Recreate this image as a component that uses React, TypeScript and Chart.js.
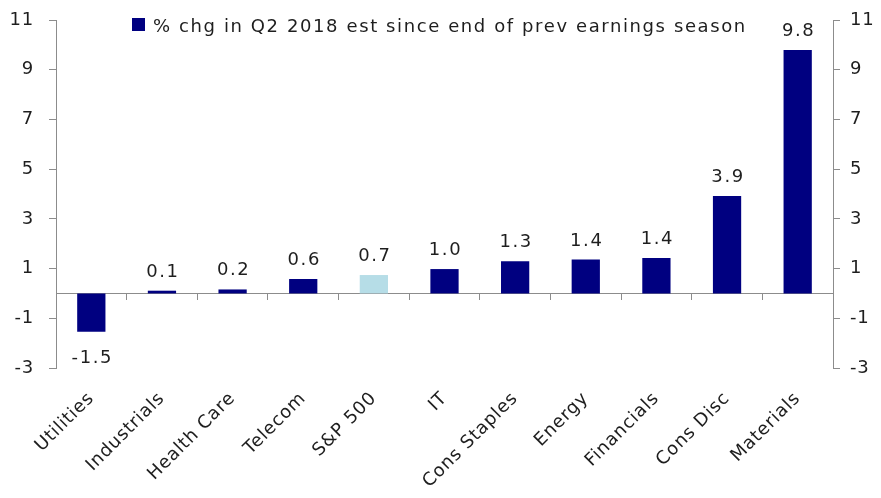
import React, { useEffect, useRef } from "react";
import { Chart, registerables } from "chart.js";

Chart.register(...registerables);

const categories = [
  "Utilities",
  "Industrials",
  "Health Care",
  "Telecom",
  "S&P 500",
  "IT",
  "Cons Staples",
  "Energy",
  "Financials",
  "Cons Disc",
  "Materials",
];
const values = [-1.54, 0.11, 0.16, 0.58, 0.74, 0.98, 1.29, 1.36, 1.43, 3.92, 9.79];
const highlighted = "S&P 500";
const yTicks = [-3, -1, 1, 3, 5, 7, 9, 11];
const seriesLabel = "% chg in Q2 2018 est since end of prev earnings season";

const NAVY = "#000080";
const LIGHT = "#B6DDE7";
const AXIS = "#8c8c8c";
const TEXT = "#1e1e1e";
const FAMILY = "'DejaVu Sans', sans-serif";
const FONT_SIZE = 18;
const SPACING = "1.6px";
const AXIS_SPACING = "0.8px";

const spacingPlugin = {
  id: "letterSpacing",
  beforeLayout(chart: any) {
    chart.ctx.letterSpacing = AXIS_SPACING;
  },
  beforeDraw(chart: any) {
    chart.ctx.letterSpacing = AXIS_SPACING;
  },
};

const dataLabelPlugin = {
  id: "dataLabels",
  afterDatasetsDraw(chart: any) {
    const { ctx } = chart;
    const meta = chart.getDatasetMeta(0);
    ctx.save();
    ctx.letterSpacing = SPACING;
    ctx.font = `${FONT_SIZE}px ${FAMILY}`;
    ctx.fillStyle = TEXT;
    ctx.textAlign = "center";
    ctx.textBaseline = "alphabetic";
    meta.data.forEach((bar: any, i: number) => {
      const v = values[i];
      const { x, y } = bar.getProps(["x", "y"], true);
      const ty = v >= 0 ? y - 14 : y + 31;
      ctx.fillText(v.toFixed(1), x + 1, ty);
    });
    ctx.restore();
  },
};

const legendPlugin = {
  id: "insideLegend",
  afterDraw(chart: any) {
    const { ctx } = chart;
    const ds = chart.data.datasets[0];
    ctx.save();
    ctx.fillStyle = NAVY;
    ctx.fillRect(132, 18, 13, 13);
    ctx.letterSpacing = SPACING;
    ctx.font = `${FONT_SIZE}px ${FAMILY}`;
    ctx.fillStyle = TEXT;
    ctx.textAlign = "left";
    ctx.textBaseline = "alphabetic";
    ctx.fillText(ds.label, 153, 32);
    ctx.restore();
  },
};

export default function App() {
  const canvasRef = useRef<HTMLCanvasElement | null>(null);

  useEffect(() => {
    if (!canvasRef.current) return;
    const font = { family: FAMILY, size: FONT_SIZE };
    const setTicks = (s: any) => {
      s.ticks = yTicks.map((v) => ({ value: v }));
    };
    const fitY = (width: number) => (s: any) => {
      s.width = width;
      s.paddingTop = 0;
      s.paddingBottom = 0;
    };
    const chart = new Chart(canvasRef.current, {
      type: "bar",
      data: {
        labels: categories,
        datasets: [
          {
            label: seriesLabel,
            data: values,
            backgroundColor: categories.map((c) => (c === highlighted ? LIGHT : NAVY)),
            barPercentage: 0.4,
            categoryPercentage: 1,
            xAxisID: "x",
            yAxisID: "y",
          },
        ],
      },
      options: {
        animation: false,
        responsive: true,
        maintainAspectRatio: false,
        layout: { padding: { top: 20, left: 0, right: 0, bottom: 0 } },
        plugins: {
          legend: { display: false },
          tooltip: { enabled: false },
        },
        scales: {
          x: {
            type: "category",
            position: "bottom",
            grid: { display: false },
            border: { display: false },
            ticks: {
              autoSkip: false,
              minRotation: 45,
              maxRotation: 45,
              font,
              color: TEXT,
              padding: 12,
            },
            afterFit: (s: any) => {
              s.height = 130;
            },
          },
          x0: {
            type: "category",
            axis: "x",
            position: { y: 0 },
            grid: {
              display: true,
              drawOnChartArea: false,
              drawTicks: true,
              tickLength: 6,
              offset: true,
              color: AXIS,
            },
            border: { display: true, color: AXIS, width: 1 },
            ticks: { display: false },
          },
          y: {
            type: "linear",
            position: "left",
            min: -3,
            max: 11,
            afterBuildTicks: setTicks,
            grid: {
              display: true,
              drawOnChartArea: false,
              drawTicks: true,
              tickLength: 7,
              color: AXIS,
            },
            border: { display: true, color: AXIS, width: 1 },
            ticks: { font, color: TEXT, padding: 15 },
            afterFit: fitY(56),
          },
          y2: {
            type: "linear",
            position: "right",
            min: -3,
            max: 11,
            afterBuildTicks: setTicks,
            grid: {
              display: true,
              drawOnChartArea: false,
              drawTicks: true,
              tickLength: 7,
              color: AXIS,
            },
            border: { display: true, color: AXIS, width: 1 },
            ticks: { font, color: TEXT, padding: 10 },
            afterFit: fitY(48),
          },
        },
      } as any,
      plugins: [spacingPlugin, dataLabelPlugin, legendPlugin],
    });
    return () => chart.destroy();
  }, []);

  return (
    <div
      style={{
        position: "fixed",
        left: 0,
        top: 0,
        width: 881,
        height: 498,
        background: "#ffffff",
      }}
    >
      <canvas ref={canvasRef} />
    </div>
  );
}
